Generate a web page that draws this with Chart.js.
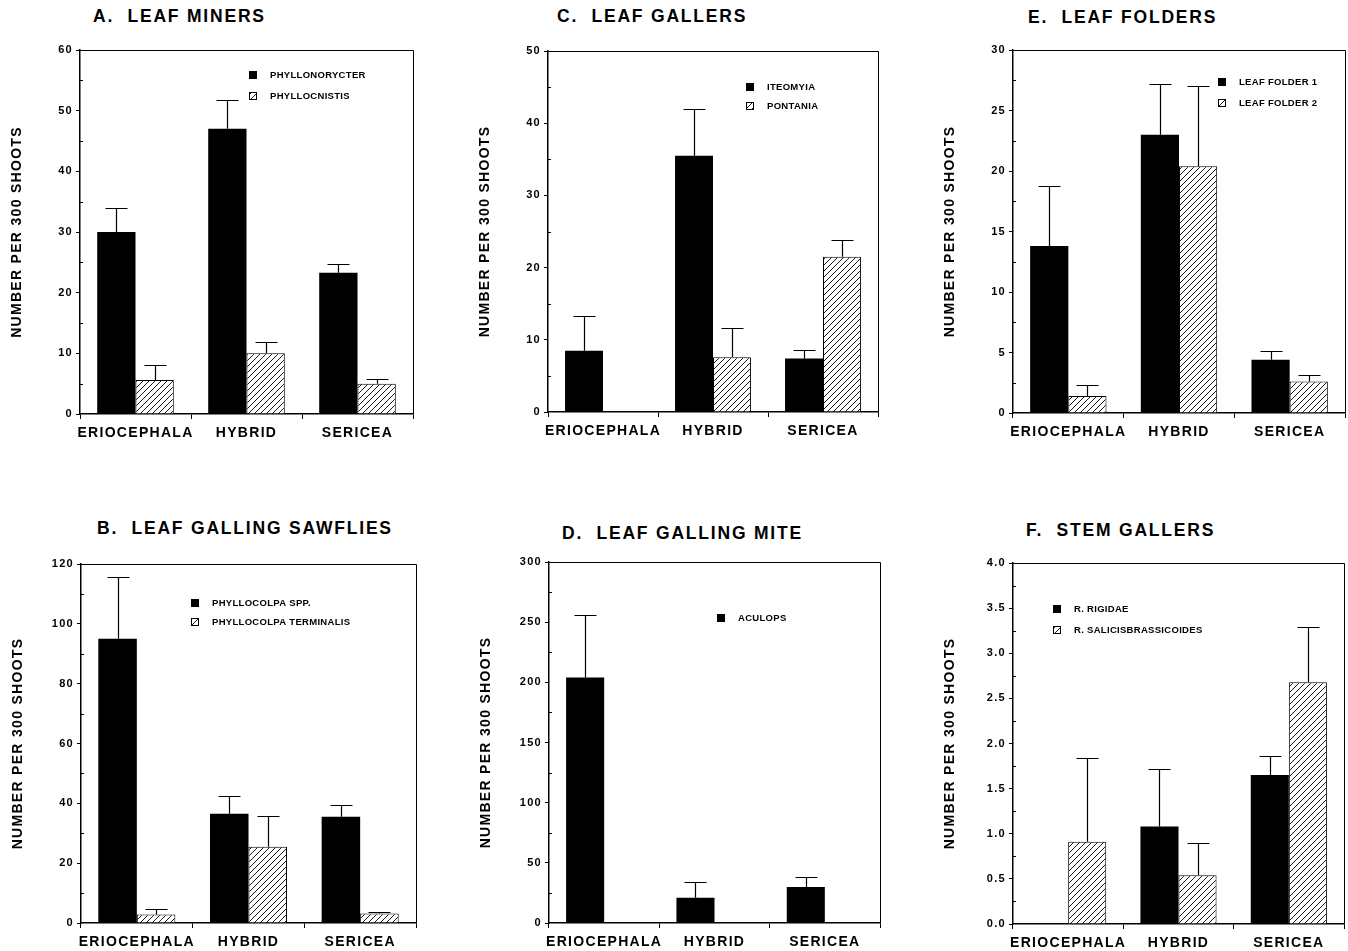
<!DOCTYPE html>
<html>
<head>
<meta charset="utf-8">
<script src="https://cdn.jsdelivr.net/npm/chart.js@4.4.1/dist/chart.umd.min.js"></script>
<style>
  body { margin: 0; background: #fff; width: 1348px; height: 951px; position: relative; overflow: hidden;
         font-family: "Liberation Sans", Arial, sans-serif; }
  canvas { position: absolute; }
  .title { position: absolute; font-weight: bold; font-size: 17.5px; letter-spacing: 1.8px;
           white-space: pre; line-height: 20px; color: #000; }
</style>
</head>
<body>
<script>
'use strict';

const species = ['ERIOCEPHALA', 'HYBRID', 'SERICEA'];

// A. leaf miners
const minerTicks = ['0', '10', '20', '30', '40', '50', '60'];
const phyllonorycter = [30, 47, 23.3];
const phyllonorycterTop = [34, 51.7, 24.7];
const phyllocnistis = [5.6, 10, 5];
const phyllocnistisTop = [8, 11.9, 5.7];

// C. leaf gallers
const gallerTicks = ['0', '10', '20', '30', '40', '50'];
const iteomyia = [8.5, 35.5, 7.4];
const iteomyiaTop = [13.3, 42, 8.6];
const pontania = [null, 7.6, 21.5];
const pontaniaTop = [null, 11.6, 23.8];

// E. leaf folders
const folderTicks = ['0', '5', '10', '15', '20', '25', '30'];
const folder1 = [13.8, 23, 4.4];
const folder1Top = [18.8, 27.2, 5.1];
const folder2 = [1.4, 20.4, 2.6];
const folder2Top = [2.3, 27.0, 3.1];

// B. leaf galling sawflies
const sawflyTicks = ['0', '20', '40', '60', '80', '100', '120'];
const phyllocolpa = [95, 36.5, 35.5];
const phyllocolpaTop = [115.5, 42.3, 39.3];
const terminalis = [2.8, 25.5, 3.2];
const terminalisTop = [4.8, 35.7, 3.8];

// D. leaf galling mite
const miteTicks = ['0', '50', '100', '150', '200', '250', '300'];
const aculops = [204, 21, 30];
const aculopsTop = [256, 34, 38];

// F. stem gallers
const stemTicks = ['0.0', '0.5', '1.0', '1.5', '2.0', '2.5', '3.0', '3.5', '4.0'];
const rigidae = [null, 1.08, 1.65];
const rigidaeTop = [null, 1.72, 1.86];
const brassicoides = [0.91, 0.54, 2.68];
const brassicoidesTop = [1.84, 0.9, 3.29];

const FONT = '"Liberation Sans", Arial, sans-serif';

// diagonal hatch fill
const hatch = (() => {
  const c = document.createElement('canvas');
  c.width = 6; c.height = 6;
  const g = c.getContext('2d');
  g.fillStyle = '#fff';
  g.fillRect(0, 0, 6, 6);
  g.strokeStyle = '#000';
  g.lineWidth = 0.9;
  g.beginPath();
  g.moveTo(-1, 7); g.lineTo(7, -1);
  g.moveTo(-1, 1); g.lineTo(1, -1);
  g.moveTo(5, 7); g.lineTo(7, 5);
  g.stroke();
  return g.createPattern(c, 'repeat');
})();

const solid = (label, data, errTop) => ({
  label, data, errTop, backgroundColor: '#000', borderColor: '#000', borderWidth: 0
});
const hatched = (label, data, errTop) => ({
  label, data, errTop, backgroundColor: hatch, borderColor: '#000', borderWidth: 1, borderSkipped: 'bottom'
});

const panels = [
  { title: 'A.  LEAF MINERS', tx: 93, ty: 17, area: [80, 50, 413, 414], ticks: minerTicks,
    legend: { x: 169, y: 25, gap: 21 },
    datasets: [solid('PHYLLONORYCTER', phyllonorycter, phyllonorycterTop),
               hatched('PHYLLOCNISTIS', phyllocnistis, phyllocnistisTop)] },
  { title: 'C.  LEAF GALLERS', tx: 557, ty: 17, area: [548, 51, 878, 412], ticks: gallerTicks,
    legend: { x: 198, y: 36, gap: 19 },
    datasets: [solid('ITEOMYIA', iteomyia, iteomyiaTop),
               hatched('PONTANIA', pontania, pontaniaTop)] },
  { title: 'E.  LEAF FOLDERS', tx: 1028, ty: 18, area: [1013, 50, 1345, 413], ticks: folderTicks,
    legend: { x: 205, y: 32, gap: 21 },
    datasets: [solid('LEAF FOLDER 1', folder1, folder1Top),
               hatched('LEAF FOLDER 2', folder2, folder2Top)] },
  { title: 'B.  LEAF GALLING SAWFLIES', tx: 97, ty: 529, area: [81, 564, 416, 923], ticks: sawflyTicks,
    legend: { x: 110, y: 39, gap: 19 },
    datasets: [solid('PHYLLOCOLPA SPP.', phyllocolpa, phyllocolpaTop),
               hatched('PHYLLOCOLPA TERMINALIS', terminalis, terminalisTop)] },
  { title: 'D.  LEAF GALLING MITE', tx: 562, ty: 534, area: [549, 562, 880, 923], ticks: miteTicks,
    legend: { x: 168, y: 56, gap: 21 },
    datasets: [solid('ACULOPS', aculops, aculopsTop),
               hatched('', [null, null, null], null)] },
  { title: 'F.  STEM GALLERS', tx: 1026, ty: 531, area: [1013, 563, 1344, 924], ticks: stemTicks,
    legend: { x: 40, y: 46, gap: 21 },
    datasets: [solid('R. RIGIDAE', rigidae, rigidaeTop),
               hatched('R. SALICISBRASSICOIDES', brassicoides, brassicoidesTop)] }
];

// error bars: upper whisker only, with a cap
const errorBars = {
  id: 'errorBars',
  afterDatasetsDraw(chart) {
    const { ctx, scales: { y } } = chart;
    ctx.save();
    ctx.strokeStyle = '#000';
    ctx.lineWidth = 1.2;
    chart.data.datasets.forEach((ds, i) => {
      if (!ds.errTop) return;
      chart.getDatasetMeta(i).data.forEach((bar, j) => {
        const top = ds.errTop[j];
        if (top == null || ds.data[j] == null) return;
        const yt = Math.round(y.getPixelForValue(top)) + 0.5;
        const x = Math.round(bar.x) + 0.5;
        ctx.beginPath();
        ctx.moveTo(x, bar.y);
        ctx.lineTo(x, yt);
        ctx.moveTo(x - 11, yt);
        ctx.lineTo(x + 11, yt);
        ctx.stroke();
      });
    });
    ctx.restore();
  }
};

// box round the plot + small minor ticks on y
const frame = {
  id: 'frame',
  beforeDraw(chart) {
    chart.ctx.letterSpacing = '1.3px';
  },
  afterDraw(chart) {
    const { ctx, chartArea: { left, top, right, bottom }, scales: { y } } = chart;
    ctx.save();
    ctx.strokeStyle = '#000';
    ctx.lineWidth = 1;
    ctx.beginPath();
    ctx.moveTo(left, top + 0.5);
    ctx.lineTo(right + 0.5, top + 0.5);
    ctx.lineTo(right + 0.5, bottom);
    ctx.stroke();
    const t = y.ticks;
    ctx.beginPath();
    for (let i = 0; i < t.length - 1; i++) {
      const py = Math.round(y.getPixelForValue((t[i].value + t[i + 1].value) / 2)) + 0.5;
      ctx.moveTo(left, py);
      ctx.lineTo(left + 3, py);
    }
    ctx.stroke();
    ctx.restore();
  }
};

const boxLegend = {
  id: 'boxLegend',
  afterDraw(chart, args, opts) {
    const { ctx, chartArea: { left, top } } = chart;
    ctx.save();
    ctx.letterSpacing = '0.3px';
    ctx.font = 'bold 9.5px ' + FONT;
    ctx.textBaseline = 'middle';
    let row = 0;
    chart.data.datasets.forEach(ds => {
      if (!ds.label) return;
      const bx = left + opts.x;
      const cy = Math.round(top + opts.y + row * opts.gap);
      ctx.fillStyle = ds.backgroundColor;
      ctx.fillRect(bx, cy - 4, 8, 8);
      ctx.strokeStyle = '#000';
      ctx.lineWidth = 1;
      ctx.strokeRect(bx + 0.5, cy - 3.5, 7, 7);
      ctx.fillStyle = '#000';
      ctx.fillText(ds.label, bx + 21, cy + 0.5);
      row++;
    });
    ctx.restore();
  }
};

panels.forEach(p => {
  const [L, T, R, B] = p.area;
  const yw = 80, xh = 40, padTop = 12, padRight = 4;

  const title = document.createElement('div');
  title.className = 'title';
  title.textContent = p.title;
  title.style.left = p.tx + 'px';
  title.style.top = (p.ty - 11) + 'px';
  document.body.appendChild(title);

  const canvas = document.createElement('canvas');
  const cl = L - yw, ct = T - padTop;
  canvas.width = R - cl + padRight;
  canvas.height = B - ct + xh;
  canvas.style.left = cl + 'px';
  canvas.style.top = ct + 'px';
  document.body.appendChild(canvas);

  const tickValues = p.ticks.map(Number);

  new Chart(canvas, {
    type: 'bar',
    data: { labels: species, datasets: p.datasets },
    options: {
      responsive: false,
      animation: false,
      layout: { padding: { top: padTop, right: padRight, left: 0, bottom: 0 } },
      categoryPercentage: 0.69,
      barPercentage: 1.0,
      plugins: {
        legend: { display: false },
        tooltip: { enabled: false },
        boxLegend: p.legend
      },
      scales: {
        x: {
          grid: { offset: true, drawOnChartArea: false, drawTicks: true, tickLength: 5, color: '#000', lineWidth: 1 },
          border: { display: true, color: '#000', width: 1.5 },
          ticks: { color: '#000', font: { family: FONT, size: 14, weight: 'bold' }, padding: 6,
                   maxRotation: 0, minRotation: 0, autoSkip: false },
          afterFit: s => { s.height = xh; }
        },
        y: {
          min: tickValues[0],
          max: tickValues[tickValues.length - 1],
          afterBuildTicks: s => { s.ticks = tickValues.map(v => ({ value: v })); },
          grid: { drawOnChartArea: false, drawTicks: true, tickLength: 4, color: '#000', lineWidth: 1 },
          border: { display: true, color: '#000', width: 1.5 },
          ticks: { color: '#000', font: { family: FONT, size: 11, weight: 'bold' }, padding: 3,
                   callback: v => p.ticks[tickValues.indexOf(v)] },
          title: { display: true, text: 'NUMBER PER 300 SHOOTS', color: '#000',
                   font: { family: FONT, size: 14, weight: 'bold' }, padding: { top: 9, bottom: 0 } },
          afterFit: s => { s.width = yw; }
        }
      }
    },
    plugins: [errorBars, frame, boxLegend]
  });
});
</script>
</body>
</html>
